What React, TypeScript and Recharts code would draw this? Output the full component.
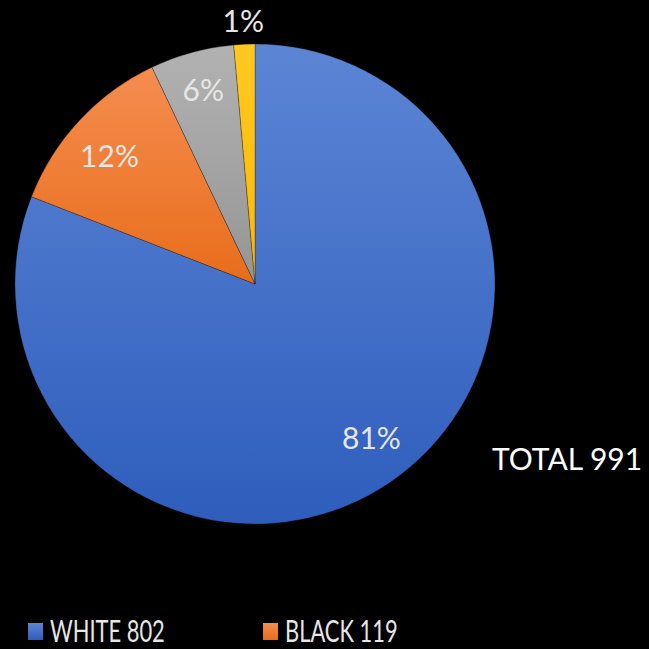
import React from 'react';
import { PieChart, Pie, Cell } from 'recharts';

const categories = ['WHITE', 'BLACK', 'OTHER A', 'OTHER B'];
const counts = [802, 119, 56, 14];
const total = 991;
const legendCount = 2; // only the first legend row is visible

const gradients = [
  ['#5C85D5', '#2E5DBC'],
  ['#F58D50', '#E86D1A'],
  ['#B2B2B2', '#959595'],
  ['#FFC822', '#FDB800'],
];

const data = categories.map((name, i) => ({ name, value: counts[i] }));

const RADIAN = Math.PI / 180;
const FONT = 'Lato, "Open Sans", sans-serif';

// best-fit label placement, like the spreadsheet does it
const labelRadius = [0.8, 0.81, 0.84, 1.1];
const labelShift = [3, 1.4, -0.4, 0];

const renderLabel = ({ cx, cy, midAngle, outerRadius, percent, index }: any) => {
  const r = outerRadius * labelRadius[index];
  const a = (midAngle + labelShift[index]) * RADIAN;
  const x = cx + r * Math.cos(-a);
  const y = cy + r * Math.sin(-a);
  return (
    <text
      x={x}
      y={y}
      fill="#E6E6E6"
      textAnchor="middle"
      dominantBaseline="central"
      style={{ fontFamily: FONT, fontSize: 30 }}
    >
      {`${Math.round(percent * 100)}%`}
    </text>
  );
};

export default function App() {
  return (
    <div style={{ position: 'relative', width: 649, height: 649, background: '#000', overflow: 'hidden' }}>
      <style>{`body{margin:0;background:#000}`}</style>
      <PieChart width={649} height={649} margin={{ top: 0, right: 0, bottom: 0, left: 0 }}>
        <defs>
          {gradients.map((g, i) => (
            <linearGradient key={i} id={`grad${i}`} x1="0" y1="0" x2="0" y2="1">
              <stop offset="0%" stopColor={g[0]} />
              <stop offset="100%" stopColor={g[1]} />
            </linearGradient>
          ))}
        </defs>
        <Pie
          data={data}
          dataKey="value"
          nameKey="name"
          cx={255}
          cy={284}
          outerRadius={240}
          startAngle={90}
          endAngle={-270}
          stroke="rgba(0,0,0,0.35)"
          strokeWidth={0.75}
          label={renderLabel}
          labelLine={false}
          isAnimationActive={false}
        >
          {data.map((_, i) => (
            <Cell key={i} fill={`url(#grad${i})`} />
          ))}
        </Pie>
      </PieChart>
      <div
        style={{
          position: 'absolute',
          left: 492,
          top: 440,
          color: '#fff',
          fontFamily: FONT,
          fontSize: 30,
          whiteSpace: 'nowrap',
        }}
      >
        {`TOTAL ${total}`}
      </div>
      {data.slice(0, legendCount).map((d, i) => (
        <div
          key={d.name}
          style={{
            position: 'absolute',
            left: 28 + i * 235,
            top: 616,
            height: 28,
            display: 'flex',
            alignItems: 'center',
            color: '#E6E6E6',
            fontFamily: FONT,
            fontSize: 30,
            lineHeight: '28px',
            whiteSpace: 'nowrap',
          }}
        >
          <span
            style={{
              display: 'inline-block',
              width: 15,
              height: 17,
              marginRight: 7,
              marginTop: 3,
              background: `linear-gradient(${gradients[i][0]}, ${gradients[i][1]})`,
            }}
          />
          <span style={{ display: 'inline-block', transform: 'scaleX(0.73)', transformOrigin: 'left center' }}>
            {`${d.name} ${d.value}`}
          </span>
        </div>
      ))}
    </div>
  );
}
